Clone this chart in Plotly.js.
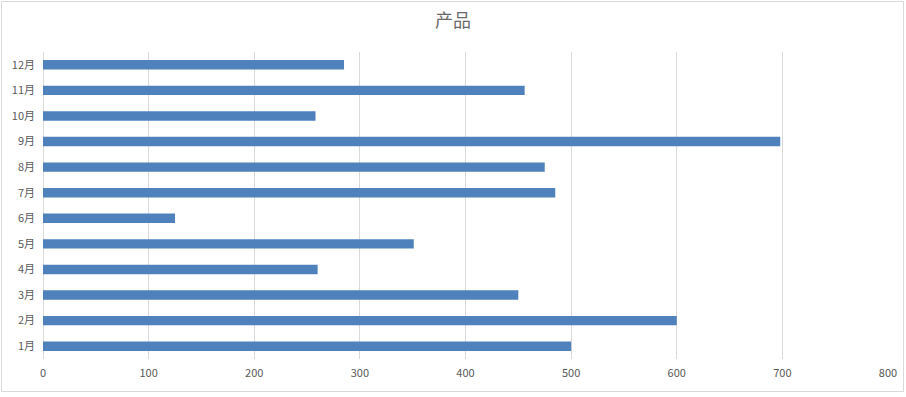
<!DOCTYPE html>
<html>
<head>
<meta charset="utf-8">
<script src="https://cdn.plot.ly/plotly-3.0.1.min.js"></script>
<style>
html,body{margin:0;padding:0;background:#fff;}
#chart{width:906px;height:397px;}
</style>
</head>
<body>
<div id="chart"></div>
<script>
const months = ['1月','2月','3月','4月','5月','6月','7月','8月','9月','10月','11月','12月'];
const values = [500, 600, 450, 260, 351, 125, 485, 475, 698, 258, 456, 285];
const xTicks = [0, 100, 200, 300, 400, 500, 600, 700, 800];
const chartTitle = '产品';

const W = 906, H = 397;
const m = {l: 43, r: 18, t: 52, b: 38};
const pw = W - m.l - m.r, ph = H - m.t - m.b;
const px = x => (x - m.l) / pw;
const py = y => (H - m.b - y) / ph;

const font = '"Noto Sans CJK SC", "Open Sans", sans-serif';

Plotly.newPlot('chart', [{
  type: 'bar',
  orientation: 'h',
  y: months,
  x: values,
  marker: {color: '#4f81bd'},
  width: 0.37,
  hoverinfo: 'x+y'
}], {
  width: W, height: H,
  margin: m,
  paper_bgcolor: '#ffffff',
  plot_bgcolor: '#ffffff',
  showlegend: false,
  title: {text: chartTitle, font: {family: font, size: 18, color: '#6a6a6a'}, x: 0.5, xref: 'container', xanchor: 'center', y: 0.947, yanchor: 'middle'},
  xaxis: {
    range: [0, 800],
    tickvals: xTicks,
    ticktext: xTicks.map(String),
    showgrid: true, gridcolor: '#d9d9d9', gridwidth: 1,
    zeroline: true, zerolinecolor: '#d9d9d9', zerolinewidth: 1,
    showline: false,
    ticks: '',
    ticklabelstandoff: 6,
    tickfont: {family: font, size: 11, color: '#595959'},
    fixedrange: true
  },
  yaxis: {
    type: 'category',
    categoryorder: 'array', categoryarray: months,
    showgrid: false, zeroline: false, showline: false,
    ticks: '',
    ticklabelstandoff: 7,
    tickfont: {family: font, size: 11, color: '#595959'},
    fixedrange: true
  },
  shapes: [{
    type: 'rect', xref: 'paper', yref: 'paper',
    x0: px(1.5), x1: px(903.5), y0: py(391.5), y1: py(1.5),
    line: {color: '#d9d9d9', width: 1}, fillcolor: 'rgba(0,0,0,0)', layer: 'below'
  }]
}, {displayModeBar: false, staticPlot: true});
</script>
</body>
</html>
